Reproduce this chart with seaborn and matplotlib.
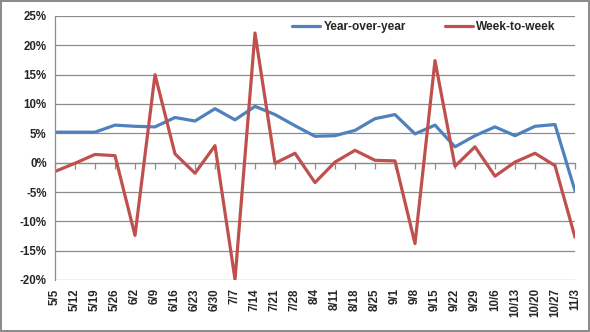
import matplotlib
matplotlib.use("Agg")
import matplotlib.pyplot as plt
import seaborn as sns
import pandas as pd
from matplotlib.ticker import FuncFormatter, MultipleLocator

weeks = ["5/5", "5/12", "5/19", "5/26", "6/2", "6/9", "6/16", "6/23", "6/30",
         "7/7", "7/14", "7/21", "7/28", "8/4", "8/11", "8/18", "8/25", "9/1",
         "9/8", "9/15", "9/22", "9/29", "10/6", "10/13", "10/20", "10/27", "11/3"]
yoy = [5.2, 5.2, 5.2, 6.4, 6.2, 6.1, 7.7, 7.1, 9.2,
       7.3, 9.6, 8.2, 6.3, 4.5, 4.6, 5.5, 7.5, 8.2,
       4.9, 6.4, 2.7, 4.6, 6.1, 4.6, 6.2, 6.5, -4.8]
wow = [-1.5, -0.1, 1.4, 1.2, -12.4, 15.0, 1.5, -1.8, 2.9,
       -19.9, 22.1, -0.1, 1.6, -3.4, 0.1, 2.1, 0.4, 0.3,
       -13.8, 17.4, -0.6, 2.7, -2.3, 0.1, 1.6, -0.5, -12.7]
series_names = ["Year-over-year", "Week-to-week"]

df = pd.DataFrame({
    "week": list(range(len(weeks))) * 2,
    "value": yoy + wow,
    "series": [series_names[0]] * len(weeks) + [series_names[1]] * len(weeks),
})

sns.set_style("white")
plt.rcParams["font.family"] = ["Liberation Sans", "DejaVu Sans"]

fig = plt.figure(figsize=(5.9, 3.32), dpi=100, edgecolor="#8c8c8c", linewidth=1.5)
ax = fig.add_axes([55 / 590, 1 - 280 / 332, 520 / 590, 264 / 332])

sns.lineplot(data=df, x="week", y="value", hue="series",
             palette=["#4F81BD", "#C0504D"], linewidth=2.3, ax=ax)

ax.set_xlim(0, len(weeks) - 1)
ax.set_ylim(-20, 25)
ax.yaxis.set_major_locator(MultipleLocator(5))
ax.yaxis.set_major_formatter(FuncFormatter(lambda v, p: f"{v:.0f}%"))
ax.grid(axis="y", color="#8c8c8c", linewidth=0.9)
ax.set_axisbelow(True)

ax.set_xticks(range(len(weeks)))
ax.set_xticklabels(weeks, rotation=90, fontweight="bold", fontsize=8.3)
ax.tick_params(axis="x", length=0, pad=6)
ax.tick_params(axis="y", length=4, width=0.9, color="#8c8c8c", direction="out",
               labelsize=8.3, pad=2)
for lab in ax.get_yticklabels():
    lab.set_fontweight("bold")

for s in ["top", "right", "bottom"]:
    ax.spines[s].set_visible(False)
ax.spines["left"].set_color("#8c8c8c")
ax.spines["left"].set_linewidth(0.9)

# axis line at 0% with tick marks
sec = ax.secondary_xaxis(20 / 45)
sec.set_xticks(range(len(weeks)))
sec.set_xticklabels([])
sec.tick_params(length=4, width=0.9, color="#8c8c8c", direction="out")
sec.spines["bottom"].set_color("#8c8c8c")
sec.spines["bottom"].set_linewidth(0.9)

ax.set_xlabel("")
ax.set_ylabel("")
leg = ax.legend(ncol=2, frameon=False, loc="center", bbox_to_anchor=(0.71, 0.958),
                prop={"weight": "bold", "size": 8.6}, handlelength=2.3,
                columnspacing=3.3, handletextpad=0.3)
for line in leg.get_lines():
    line.set_linewidth(2.3)

fig.savefig("out.png", dpi=100, edgecolor=fig.get_edgecolor())
